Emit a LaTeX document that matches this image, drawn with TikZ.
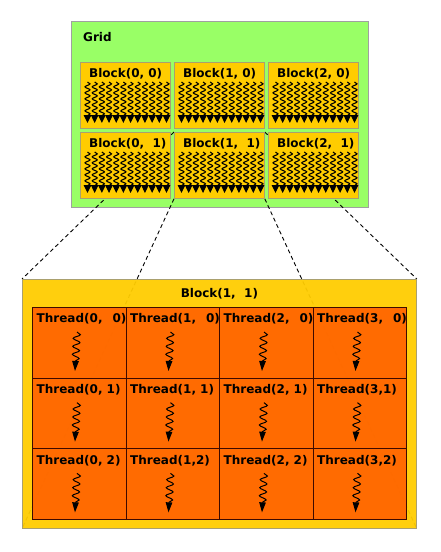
\documentclass[tikz,border=0pt]{standalone}
\usepackage{fontspec}
\setmainfont{DejaVu Sans}
\usetikzlibrary{arrows.meta,decorations.pathmorphing,backgrounds}

\definecolor{gridgreen}{RGB}{153,255,102}
\definecolor{gridedge}{RGB}{160,160,160}
\definecolor{blockyellow}{RGB}{255,204,0}
\definecolor{blockedge}{RGB}{170,160,110}
\definecolor{threadorange}{RGB}{255,102,0}
\definecolor{threadedge}{RGB}{60,10,0}

\tikzset{
  gridbox/.style={draw=gridedge,fill=gridgreen,line width=0.8pt,inner sep=0pt,anchor=north west},
  blockbox/.style={draw=blockedge,fill=blockyellow,line width=0.8pt,
    minimum width=90pt,minimum height=66pt,inner sep=0pt,anchor=north west},
  bigbox/.style={draw=blockedge,fill=blockyellow,fill opacity=0.95,line width=0.8pt,
    inner sep=0pt,anchor=north west},
  threadbox/.style={draw=threadedge,fill=threadorange,fill opacity=0.95,line width=1pt,
    minimum width=93.5pt,minimum height=70.67pt,inner sep=0pt,anchor=north west},
  lbl/.style={font=\bfseries\fontsize{12}{14}\selectfont,inner sep=0pt},
  warp/.style={line width=1.1pt,decorate,
    decoration={snake,segment length=6pt,amplitude=2.5pt,post length=6pt},
    -{Triangle[length=8pt,width=7.5pt]}},
  warpbig/.style={line width=1pt,decorate,
    decoration={snake,segment length=8pt,amplitude=3.5pt,post length=9pt},
    -{Triangle[length=10pt,width=6.5pt]}},
  zoomline/.style={line width=0.9pt,dash pattern=on 4pt off 3pt}
}

\begin{document}
\begin{tikzpicture}[x=1pt,y=-1pt]
  \useasboundingbox (0,0) rectangle (440,552);

  % blocks of the grid
  \foreach \i/\j/\txt in {0/0/{Block(0, 0)},1/0/{Block(1, 0)},2/0/{Block(2, 0)},
      0/1/{Block(0,\ \ 1)},1/1/{Block(1,\ \ 1)},2/1/{Block(2,\ \ 1)}}{
    \node[blockbox] (b\i\j) at (80+94*\i,62+70*\j) {};
    \node[lbl,anchor=west] (b\i\j lbl) at ([xshift=9pt,yshift=-12pt]b\i\j.north west) {\txt};
    \foreach \k in {0,...,11}
      \draw[warp] ([xshift=7.5pt+7.18pt*\k,yshift=-20pt]b\i\j.north west) -- ++(0,41);
  }
  \node[lbl,anchor=west] (gridlbl) at (83,37) {Grid};

  % the block drawn large
  \node[bigbox,minimum width=394pt,minimum height=249pt] (big) at (22,279) {};
  \node[lbl] (biglbl) at ([yshift=-15pt]big.north) {Block(1,\ \ 1)};
  \foreach \c/\r/\txt in {0/0/{Thread(0,\hspace{10pt}0)},1/0/{Thread(1,\hspace{10pt}0)},
      2/0/{Thread(2,\hspace{10pt}0)},3/0/{Thread(3,\hspace{10pt}0)},
      0/1/{Thread(0, 1)},1/1/{Thread(1, 1)},2/1/{Thread(2, 1)},3/1/{Thread(3,1)},
      0/2/{Thread(0, 2)},1/2/{Thread(1,2)},2/2/{Thread(2, 2)},3/2/{Thread(3,2)}}{
    \node[threadbox] (t\c\r) at (32+93.5*\c,307+70.67*\r) {};
    \begin{scope}
      \clip (t\c\r.north west) rectangle (t\c\r.south east);
      \node[lbl,anchor=west] (t\c\r lbl) at ([xshift=4.5pt,yshift=-12pt]t\c\r.north west) {\txt};
    \end{scope}
    \draw[warpbig] ([xshift=45pt,yshift=-25pt]t\c\r.north west) -- ++(-2,39);
  }

  \begin{scope}[on background layer]
    \node[gridbox,minimum width=297pt,minimum height=186pt] (grid) at (71,21) {};
    \draw[zoomline] (b11.north west) -- (big.north west);
    \draw[zoomline] (b11.south west) -- (big.south west);
    \draw[zoomline] (b11.north east) -- (big.north east);
    \draw[zoomline] (b11.south east) -- (big.south east);
  \end{scope}
\end{tikzpicture}
\end{document}
